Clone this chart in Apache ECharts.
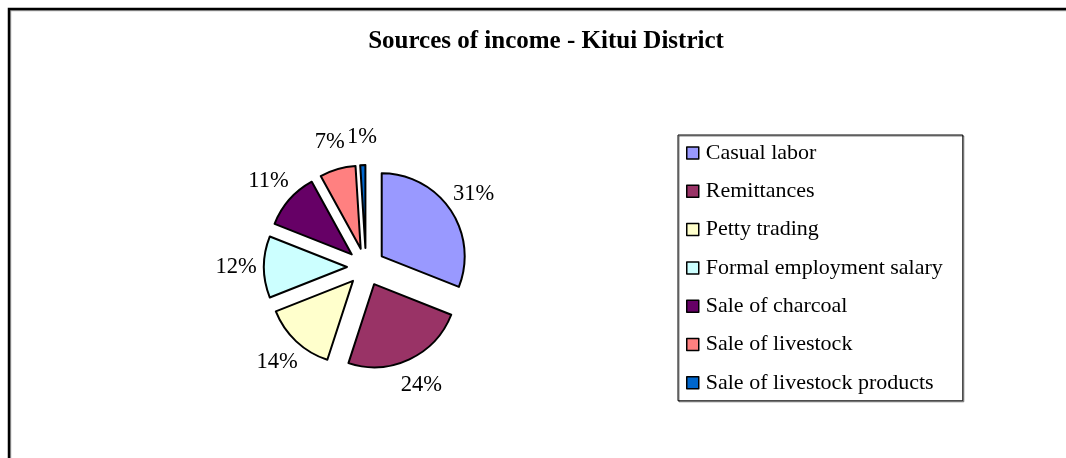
<!DOCTYPE html>
<html>
<head>
<meta charset="utf-8">
<script src="https://cdn.jsdelivr.net/npm/echarts@6/dist/echarts.min.js"></script>
<style>
html, body { margin: 0; padding: 0; background: #fff; }
#chart { width: 1066px; height: 458px; }
</style>
</head>
<body>
<div id="chart"></div>
<script>
var categories = ['Casual labor', 'Remittances', 'Petty trading', 'Formal employment salary',
	'Sale of charcoal', 'Sale of livestock', 'Sale of livestock products'];
var shares = [31, 24, 14, 12, 11, 7, 1];
var colors = ['#9999FF', '#993366', '#FFFFCC', '#CCFFFF', '#660066', '#FF8080', '#0066CC'];

var serif = '"Liberation Serif", "Times New Roman", serif';
var chart = echarts.init(document.getElementById('chart'));

var sliceData = [];
var labelData = [];
for (var i = 0; i < categories.length; i++) {
	sliceData.push({ name: categories[i], value: shares[i], selected: true,
		itemStyle: { color: colors[i] } });
	labelData.push({ name: categories[i], value: shares[i] });
}

var option = {
	animation: false,
	title: {
		text: 'Sources of income - Kitui District',
		left: 541, top: 24, textAlign: 'center',
		textStyle: { fontFamily: serif, fontSize: 25, fontWeight: 'bold', color: '#000' }
	},
	legend: {
		orient: 'vertical',
		left: 678, top: 135,
		padding: [7, 20, 7, 8],
		itemGap: 16.3,
		itemWidth: 12, itemHeight: 12,
		icon: 'rect',
		borderColor: '#000', borderWidth: 1,
		shadowColor: 'rgba(0,0,0,0.5)', shadowOffsetX: 1, shadowOffsetY: 1,
		selectedMode: false,
		data: categories,
		itemStyle: { borderColor: '#000', borderWidth: 1.5 },
		textStyle: { fontFamily: serif, fontSize: 22, color: '#000', padding: [0, 0, 0, 2] }
	},
	graphic: [{
		type: 'rect', silent: true,
		shape: { x: 9, y: 9, width: 1100, height: 500 },
		style: { fill: 'none', stroke: '#000', lineWidth: 2.5,
			shadowColor: 'rgba(0,0,0,0.35)', shadowOffsetX: 1, shadowOffsetY: 1 }
	}],
	series: [
		{
			type: 'pie',
			center: [366, 267],
			radius: 83,
			startAngle: 90,
			clockwise: true,
			selectedMode: 'multiple',
			selectedOffset: 19,
			silent: true,
			label: { show: false },
			labelLine: { show: false },
			itemStyle: { borderColor: '#000', borderWidth: 2 },
			emphasis: { disabled: true },
			data: sliceData
		},
		{
			// invisible ring only used to place the percent labels
			type: 'pie',
			center: [366, 267],
			radius: [117, 137],
			startAngle: 90,
			clockwise: true,
			silent: true,
			itemStyle: { color: 'rgba(0,0,0,0)', borderWidth: 0 },
			label: {
				show: true, position: 'inside', rotate: 0,
				formatter: '{c}%',
				fontFamily: serif, fontSize: 22.5, color: '#000'
			},
			labelLine: { show: false },
			emphasis: { disabled: true },
			data: labelData
		}
	]
};
chart.setOption(option);
</script>
</body>
</html>
